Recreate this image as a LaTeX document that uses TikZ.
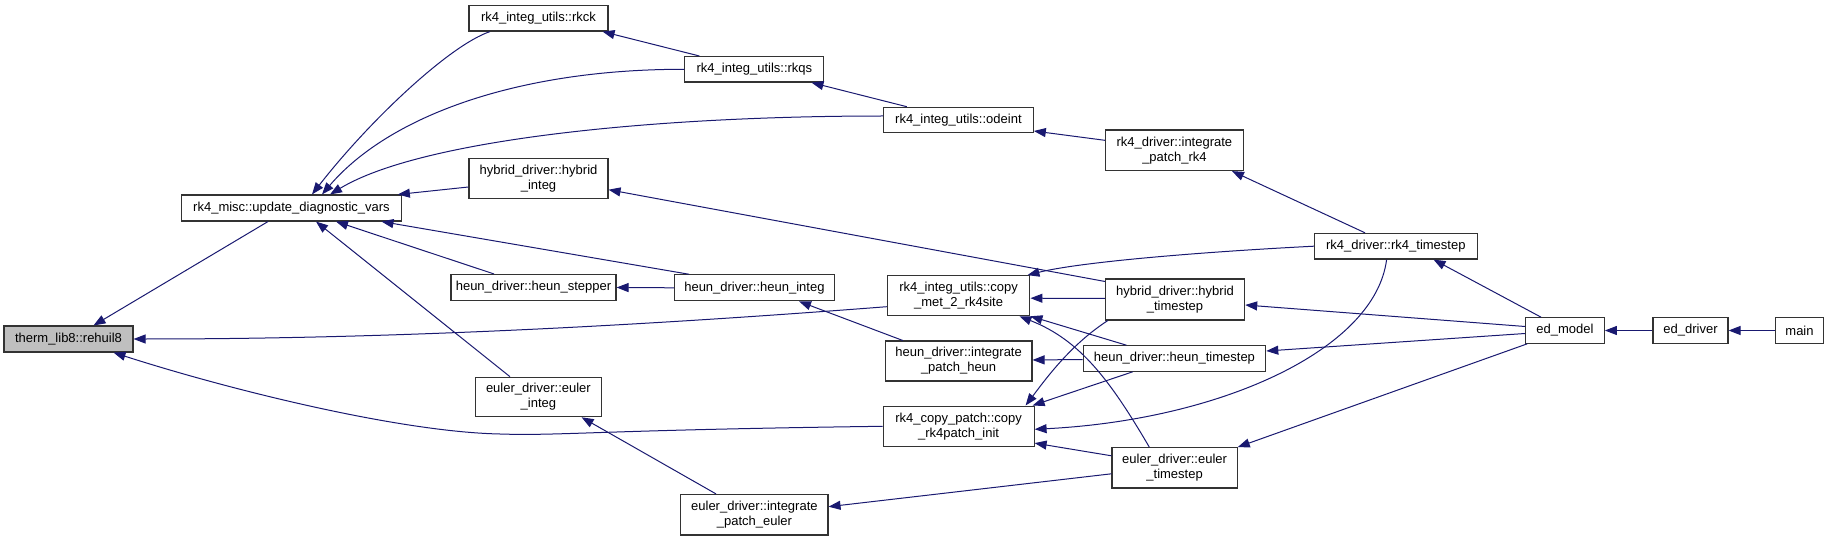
\documentclass[tikz,border=0pt]{standalone}
\usepackage{fontspec}
\setmainfont{Liberation Sans}
\usetikzlibrary{arrows.meta,calc}
\definecolor{edgeblue}{HTML}{191970}
\begin{document}
\begin{tikzpicture}[x=1pt,y=-1pt,
  box/.style={draw=black!80, line width=1.1pt, fill=white, inner sep=0pt, align=center,
    font=\fontsize{13}{15}\selectfont},
  focus/.style={box, fill=black!25},
  edge/.style={draw=edgeblue, line width=1pt, -{Triangle[length=12pt,width=9pt]}}]
\useasboundingbox (0,0) rectangle (1832,540);

% nodes
\node[focus, minimum width=129pt, minimum height=26pt] (therm) at (68.5,339) {therm\_lib8::rehuil8};
\node[box, minimum width=219.6pt, minimum height=26pt] (update) at (291.5,208) {rk4\_misc::update\_diagnostic\_vars};
\node[box, minimum width=139pt, minimum height=25.5pt] (rkck) at (538.5,18.3) {rk4\_integ\_utils::rkck};
\node[box, minimum width=139pt, minimum height=25.5pt] (rkqs) at (754.4,69.3) {rk4\_integ\_utils::rkqs};
\node[box, minimum width=149.7pt, minimum height=25.5pt] (odeint) at (958.4,120) {rk4\_integ\_utils::odeint};
\node[box, minimum width=139pt, minimum height=40pt] (hybint) at (538.5,178.7) {hybrid\_driver::hybrid\\\_integ};
\node[box, minimum width=165pt, minimum height=26pt] (heunstep) at (533.5,287.5) {heun\_driver::heun\_stepper};
\node[box, minimum width=159.6pt, minimum height=26pt] (heuninteg) at (754.4,287.8) {heun\_driver::heun\_integ};
\node[box, minimum width=125.3pt, minimum height=39.5pt] (eulerinteg) at (538.4,397) {euler\_driver::euler\\\_integ};
\node[box, minimum width=142.6pt, minimum height=40pt] (copymet) at (958.6,295.7) {rk4\_integ\_utils::copy\\\_met\_2\_rk4site};
\node[box, minimum width=146.8pt, minimum height=40pt] (iph) at (958.6,361) {heun\_driver::integrate\\\_patch\_heun};
\node[box, minimum width=150.9pt, minimum height=40.5pt] (copyinit) at (958.6,426.3) {rk4\_copy\_patch::copy\\\_rk4patch\_init};
\node[box, minimum width=147.2pt, minimum height=40.5pt] (ipe) at (754.4,514.7) {euler\_driver::integrate\\\_patch\_euler};
\node[box, minimum width=138pt, minimum height=40.5pt] (ipr4) at (1174.4,150.3) {rk4\_driver::integrate\\\_patch\_rk4};
\node[box, minimum width=162.7pt, minimum height=25.7pt] (rk4ts) at (1395.8,246.2) {rk4\_driver::rk4\_timestep};
\node[box, minimum width=139.3pt, minimum height=41pt] (hybts) at (1175,299.5) {hybrid\_driver::hybrid\\\_timestep};
\node[box, minimum width=182.7pt, minimum height=25.5pt] (heunts) at (1174.4,358.5) {heun\_driver::heun\_timestep};
\node[box, minimum width=125.2pt, minimum height=40.3pt] (eulerts) at (1174.6,467.8) {euler\_driver::euler\\\_timestep};
\node[box, minimum width=78.6pt, minimum height=25.6pt] (edmodel) at (1565,330.5) {ed\_model};
\node[box, minimum width=75pt, minimum height=25.6pt] (eddriver) at (1690.5,330.5) {ed\_driver};
\node[box, minimum width=47.6pt, minimum height=25.6pt] (main) at (1799.5,330.5) {main};

% edges (caller -> callee)
\draw[edge] ([xshift=-23.5pt]update.south) -- ([xshift=25pt]therm.north);
\draw[edge] ([yshift=-11pt]copymet.west) .. controls (650,325) and (400,339) .. (therm.east);
\draw[edge] (copyinit.west) .. controls (600,430) and (560,436) .. (500,434)
   .. controls (400,432) and (230,390) .. ([xshift=45pt]therm.south);

\draw[edge] ([xshift=-48.5pt]rkck.south) .. controls (450,45) and (370,120) .. ([xshift=20.5pt]update.north);
\draw[edge] (rkqs.west) .. controls (520,69) and (390,115) .. ([xshift=30.5pt]update.north);
\draw[edge] ([yshift=4pt]odeint.west) .. controls (650,116) and (420,140) .. ([xshift=38.5pt]update.north);
\draw[edge] ([yshift=-8.3pt]hybint.west) -- ([xshift=-4pt]update.north east);
\draw[edge] ([xshift=-65.4pt]heuninteg.north) -- ([xshift=90pt]update.south);
\draw[edge] ([xshift=-39.5pt]heunstep.north) -- ([xshift=44.5pt]update.south);
\draw[edge] ([xshift=-28.4pt]eulerinteg.north) -- ([xshift=24.5pt]update.south);

\draw[edge] ([xshift=-55pt]rkqs.north) -- ([xshift=-6pt]rkck.south east);
\draw[edge] ([xshift=-51.6pt]odeint.north) -- ([xshift=-13pt]rkqs.south east);
\draw[edge] ([yshift=10pt]ipr4.west) -- ([yshift=-11pt]odeint.east);
\draw[edge] ([xshift=-30.8pt]rk4ts.north) -- ([xshift=-12pt]ipr4.south east);

\draw[edge] ([yshift=-3pt]hybts.north west) -- ([yshift=-11pt]hybint.east);
\draw[edge] (heuninteg.west) -- (heunstep.east);
\draw[edge] ([xshift=-55.9pt]iph.north) -- ([xshift=44.6pt]heuninteg.south);
\draw[edge] ([xshift=-38.4pt]ipe.north) -- ([xshift=-20pt]eulerinteg.south east);

\draw[edge] (rk4ts.west) .. controls (1200,252) and (1080,262) .. ([xshift=-3pt]copymet.north east);
\draw[edge] ([yshift=1pt]hybts.west) -- ([yshift=-2.5pt]copymet.east);
\draw[edge] ([xshift=-48pt]heunts.north) -- (copymet.south east);
\draw[edge] ([xshift=-25.3pt]eulerts.north) .. controls (1110,380) and (1080,340) .. ([xshift=-11pt]copymet.south east);
\draw[edge] ([yshift=-1pt]heunts.west) -- ([yshift=1pt]iph.east);

\draw[edge] ([xshift=3pt]hybts.south west) .. controls (1070,345) and (1045,380) .. ([xshift=-9pt]copyinit.north east);
\draw[edge] ([xshift=-41.7pt]heunts.south) -- ([xshift=-2pt]copyinit.north east);
\draw[edge] ([xshift=-9.2pt]rk4ts.south) .. controls (1375,350) and (1220,420) .. ([yshift=-3pt]copyinit.east);
\draw[edge] ([yshift=12pt]eulerts.west) -- ([yshift=4pt]copyinit.south east);
\draw[edge] ([yshift=-6pt]eulerts.west) -- ([yshift=8pt]ipe.east);

\draw[edge] ([xshift=-24pt]edmodel.north) -- ([xshift=37.7pt]rk4ts.south);
\draw[edge] ([yshift=4pt]edmodel.west) -- ([yshift=-5.5pt]hybts.east);
\draw[edge] ([yshift=-3pt]edmodel.west) -- ([yshift=7.5pt]heunts.east);
\draw[edge] ([xshift=2pt]edmodel.south west) -- (eulerts.north east);
\draw[edge] (eddriver.west) -- (edmodel.east);
\draw[edge] (main.west) -- (eddriver.east);
\end{tikzpicture}
\end{document}
